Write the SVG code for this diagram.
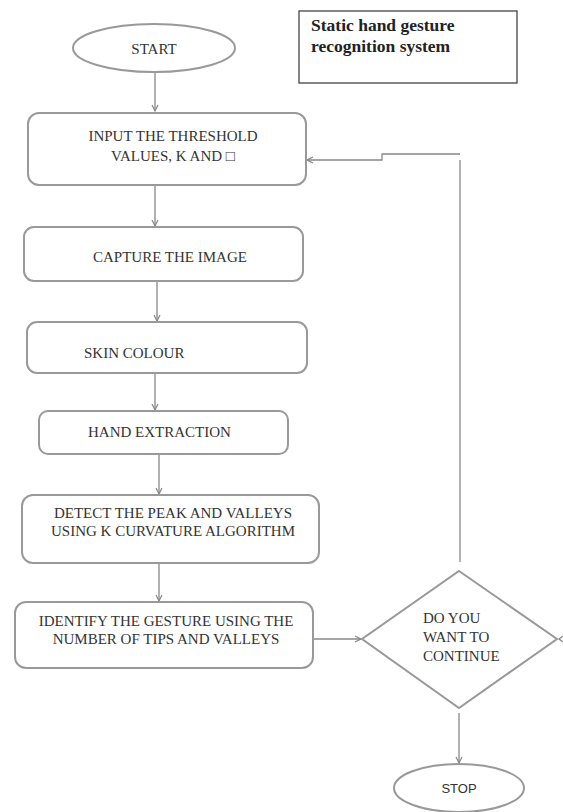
<svg xmlns="http://www.w3.org/2000/svg" width="563" height="812" viewBox="0 0 563 812">
<style>
.sh{fill:#fff;stroke:#999;stroke-width:2}
.t{font-family:"Liberation Serif","Times New Roman",serif;font-size:15px;fill:#333}
.c{stroke:#888;stroke-width:1.3;fill:none}
.ttl{font-family:"Liberation Serif","Times New Roman",serif;font-size:17.5px;font-weight:bold;fill:#222}
</style>
<defs>
<marker id="ah" markerWidth="8" markerHeight="8" refX="7" refY="4" orient="auto" markerUnits="userSpaceOnUse">
<path d="M1,1 L7,4 L1,7" fill="none" stroke="#888" stroke-width="1.2"/>
</marker>
</defs>
<rect width="563" height="812" fill="#fff"/>
<g id="title">
<rect x="299" y="11" width="218" height="72" fill="#fff" stroke="#444" stroke-width="1.3"/>
<text class="ttl" x="311" y="31">Static hand gesture</text>
<text class="ttl" x="311" y="52">recognition system</text>
</g>
<g id="connectors">
<line class="c" x1="155" y1="72" x2="155" y2="111" marker-end="url(#ah)"/>
<line class="c" x1="155" y1="186" x2="155" y2="226" marker-end="url(#ah)"/>
<line class="c" x1="157" y1="282" x2="157" y2="321" marker-end="url(#ah)"/>
<line class="c" x1="155" y1="374" x2="155" y2="410" marker-end="url(#ah)"/>
<line class="c" x1="159" y1="455" x2="159" y2="494" marker-end="url(#ah)"/>
<line class="c" x1="159" y1="564" x2="159" y2="601" marker-end="url(#ah)"/>
<line class="c" x1="313" y1="639" x2="361" y2="639" marker-end="url(#ah)"/>
<line class="c" x1="459" y1="713" x2="459" y2="763" marker-end="url(#ah)"/>
<path class="c" d="M460,562 L460,160"/>
<path class="c" d="M460,154 L382,154 L382,160 L307,160" marker-end="url(#ah)"/>
<path class="c" d="M563,636 L559,639 L563,642"/>
</g>
<g id="start">
<ellipse class="sh" cx="154" cy="48" rx="81" ry="24"/>
<text class="t" x="154" y="54" text-anchor="middle">START</text>
</g>
<g id="input">
<rect class="sh" x="28" y="113" width="278" height="72" rx="11"/>
<text class="t" x="173" y="141" text-anchor="middle">INPUT THE THRESHOLD</text>
<text class="t" x="173" y="161" text-anchor="middle">VALUES, K AND □</text>
</g>
<g id="capture">
<rect class="sh" x="24" y="227" width="279" height="54" rx="10"/>
<text class="t" x="93" y="262">CAPTURE THE IMAGE</text>
</g>
<g id="skin">
<rect class="sh" x="27" y="322" width="280" height="51" rx="10"/>
<text class="t" x="84" y="358">SKIN COLOUR</text>
</g>
<g id="hand">
<rect class="sh" x="39" y="411" width="249" height="43" rx="9"/>
<text class="t" x="88" y="437">HAND EXTRACTION</text>
</g>
<g id="detect">
<rect class="sh" x="22" y="495" width="297" height="68" rx="11"/>
<text class="t" x="173" y="518" text-anchor="middle">DETECT THE PEAK AND VALLEYS</text>
<text class="t" x="173" y="536" text-anchor="middle">USING K CURVATURE ALGORITHM</text>
</g>
<g id="identify">
<rect class="sh" x="15" y="602" width="298" height="66" rx="11"/>
<text class="t" x="166" y="626" text-anchor="middle">IDENTIFY THE GESTURE USING THE</text>
<text class="t" x="166" y="644" text-anchor="middle">NUMBER OF TIPS AND VALLEYS</text>
</g>
<g id="decision">
<polygon class="sh" points="459,571 557,639 459,708 362,639"/>
<text class="t" x="423" y="623">DO YOU</text>
<text class="t" x="423" y="642">WANT TO</text>
<text class="t" x="423" y="661">CONTINUE</text>
</g>
<g id="stop">
<ellipse class="sh" cx="459" cy="788" rx="65" ry="24"/>
<text class="t" x="459" y="793" text-anchor="middle" style="font-family:'Liberation Sans',Arial,sans-serif;font-size:13px">STOP</text>
</g>
</svg>
